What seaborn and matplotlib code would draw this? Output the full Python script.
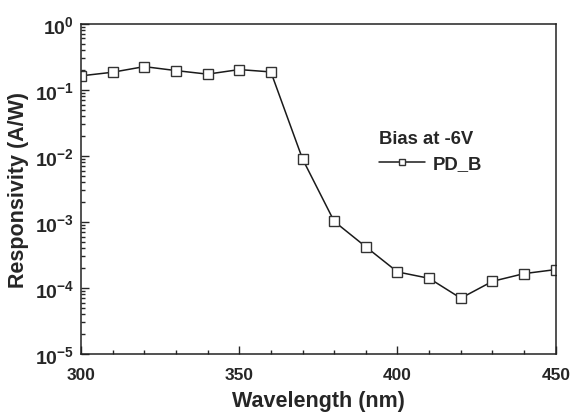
import matplotlib
matplotlib.use("Agg")
import matplotlib.pyplot as plt
import matplotlib.ticker as mticker
import numpy as np
import pandas as pd
import seaborn as sns

sns.set_style("ticks")
plt.rcParams['font.family'] = ['Liberation Sans', 'DejaVu Sans']
plt.rcParams['font.weight'] = 'bold'
plt.rcParams['axes.labelweight'] = 'bold'

# responsivity spectrum
wavelength = [300, 310, 320, 330, 340, 350, 360, 370, 380, 390, 400, 410, 420, 430, 440, 450]
responsivity = [0.163, 0.185, 0.225, 0.196, 0.173, 0.203, 0.187, 0.0090, 1.02e-3, 4.2e-4,
                1.75e-4, 1.4e-4, 7.0e-5, 1.26e-4, 1.65e-4, 1.9e-4]
series_name = 'PD_B'
legend_title = 'Bias at -6V'

df = pd.DataFrame({'Wavelength': wavelength, 'Responsivity': responsivity})

fig = plt.figure(figsize=(5.7, 4.14), dpi=100)
ax = fig.add_axes([0.142, 0.1425, 0.833, 0.7975])

sns.lineplot(data=df, x='Wavelength', y='Responsivity', ax=ax, color='#1a1a1a',
             linewidth=1.1, marker='s', markersize=6.5, markerfacecolor='white',
             markeredgecolor='#333333', markeredgewidth=1.0, label=series_name)

ax.set_yscale('log')
ax.set_xlim(300, 450)
ax.set_ylim(1e-5, 1)
ax.xaxis.set_major_locator(mticker.MultipleLocator(50))
ax.xaxis.set_minor_locator(mticker.MultipleLocator(10))
ax.yaxis.set_major_locator(mticker.LogLocator(base=10, numticks=10))
ax.yaxis.set_minor_locator(mticker.LogLocator(base=10, subs=np.arange(2, 10), numticks=10))
ax.yaxis.set_minor_formatter(mticker.NullFormatter())

ax.tick_params(axis='both', which='both', direction='in', top=False, right=False, width=1.0)
ax.tick_params(axis='x', which='major', labelsize=12.5, length=6, pad=9)
ax.tick_params(axis='y', which='major', labelsize=14, length=6, pad=5)
ax.tick_params(axis='both', which='minor', length=3)
for lbl in ax.get_xticklabels() + ax.get_yticklabels():
    lbl.set_fontweight('bold')
for sp in ax.spines.values():
    sp.set_linewidth(1.1)
    sp.set_color('#222222')

ax.set_xlabel('Wavelength (nm)', fontsize=15.5, fontweight='bold', labelpad=6)
ax.set_ylabel('Responsivity (A/W)', fontsize=15.5, fontweight='bold', labelpad=4)

leg = ax.legend(title=legend_title, loc='center left', bbox_to_anchor=(0.6, 0.615),
                frameon=False, fontsize=13.3, title_fontproperties={'weight': 'bold', 'size': 13.3},
                markerscale=0.6, handlelength=2.5, borderpad=0.2, labelspacing=0.2,
                handletextpad=0.4)
leg._legend_box.align = 'left'
leg._legend_box.sep = 6

fig.savefig('out.png', dpi=100)
